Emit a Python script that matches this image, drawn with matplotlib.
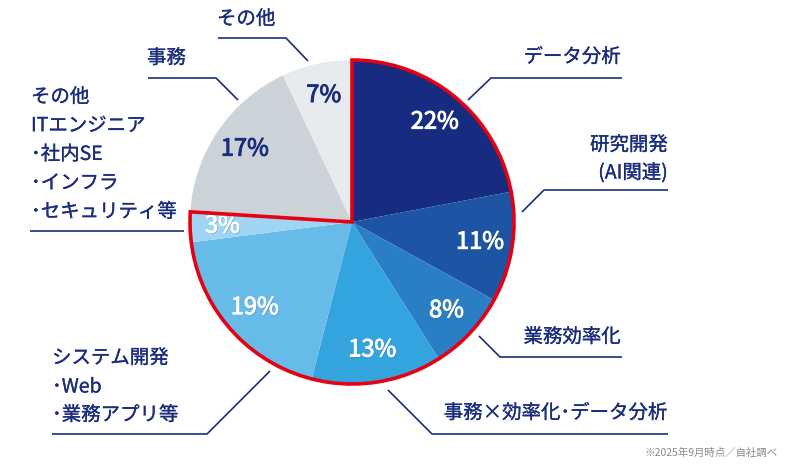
import matplotlib
matplotlib.use("Agg")
import matplotlib.pyplot as plt
from matplotlib.patches import Wedge
import matplotlib.patheffects as pe

plt.rcParams['font.family'] = ['Noto Sans CJK JP', 'DejaVu Sans']

# ---- data ----
categories = ["データ分析", "研究開発(AI関連)", "業務効率化", "事務×効率化・データ分析",
              "システム開発", "その他ITエンジニア", "事務", "その他"]
values = [22, 11, 8, 13, 19, 3, 17, 7]
pct_labels = ["22%", "11%", "8%", "13%", "19%", "3%", "17%", "7%"]
colors = ["#172b80", "#1d54a3", "#2a7fc4", "#34a4df", "#66bbe8", "#9fd4f3", "#ccd3d8", "#e8ebee"]
pct_colors = ["white"] * 6 + ["#1a2d7c"] * 2
highlight_count = 6  # slices surrounded by red outline

W, H = 800, 465
NAVY = "#1a2d7c"

fig = plt.figure(figsize=(W / 100, H / 100), dpi=100)
ax = fig.add_axes([0, 0, 1, 1])

def Y(py):
    return H - py

cx, cy, R = 352, Y(222), 162

wedges, texts, autotexts = ax.pie(
    values, colors=colors, startangle=90, counterclock=False,
    center=(cx, cy), radius=R, autopct=lambda p: "", pctdistance=0.8,
    wedgeprops=dict(linewidth=0), frame=True)
ax.set_xlim(0, W)
ax.set_ylim(0, H)
ax.set_aspect('equal')
ax.axis('off')

for t, lab, c in zip(autotexts, pct_labels, pct_colors):
    t.set_text(lab)
    t.set_color(c)
    t.set_fontsize(17)
    effects = []
    if c == "white":
        effects.append(pe.SimplePatchShadow(offset=(0.6, -0.6), shadow_rgbFace="#0a1a50", alpha=0.35))
    effects.append(pe.withStroke(linewidth=0.7, foreground=c))
    t.set_path_effects(effects)

# red outline around highlighted slices
theta1 = 90 - 360 * sum(values[:highlight_count]) / sum(values)
ax.add_patch(Wedge((cx, cy), R, theta1, 90, fill=False, ec="#e50012", lw=2.6, zorder=5))

# leader lines
def line(pts):
    xs = [p[0] for p in pts]
    ys = [Y(p[1]) for p in pts]
    ax.plot(xs, ys, color=NAVY, lw=1.2, solid_capstyle='butt', zorder=6)

fs = 14
def txt(x, py, s, ha='left'):
    ax.text(x, Y(py), s, ha=ha, va='center', fontsize=fs, color=NAVY,
            path_effects=[pe.withStroke(linewidth=0.2, foreground=NAVY)])

# データ分析
line([(468, 100), (491, 78), (622, 78)])
txt(621, 57, categories[0], ha='right')
# 研究開発
line([(522, 212), (544, 190), (668, 190)])
txt(668, 145, "研究開発", ha='right')
txt(668, 173, "(AI関連)", ha='right')
# 業務効率化
line([(479, 336), (500, 357), (622, 357)])
txt(621, 337, categories[2], ha='right')
# 事務×効率化・データ分析
line([(388, 390), (432, 434), (668, 434)])
txt(668, 413, "事務×効率化･データ分析", ha='right')
# システム開発
line([(270, 371), (207, 434), (52, 434)])
txt(52, 358, "システム開発")
txt(52, 387, "･Web")
txt(52, 415, "･業務アプリ等")
# その他ITエンジニア
line([(30, 231), (184, 231)])
for i, s in enumerate(["その他", "ITエンジニア", "･社内SE", "･インフラ", "･セキュリティ等"]):
    txt(31, 97 + i * 28.7, s)
# 事務
line([(148, 78), (216, 78), (238, 100)])
txt(147, 58, categories[6])
# その他
line([(218, 38), (286, 38), (308, 61)])
txt(217, 19, categories[7])

ax.text(778, Y(453), "※2025年9月時点／自社調べ", ha='right', va='center', fontsize=7.5, color="#8a8a8a")

fig.savefig("out.png", dpi=100)
